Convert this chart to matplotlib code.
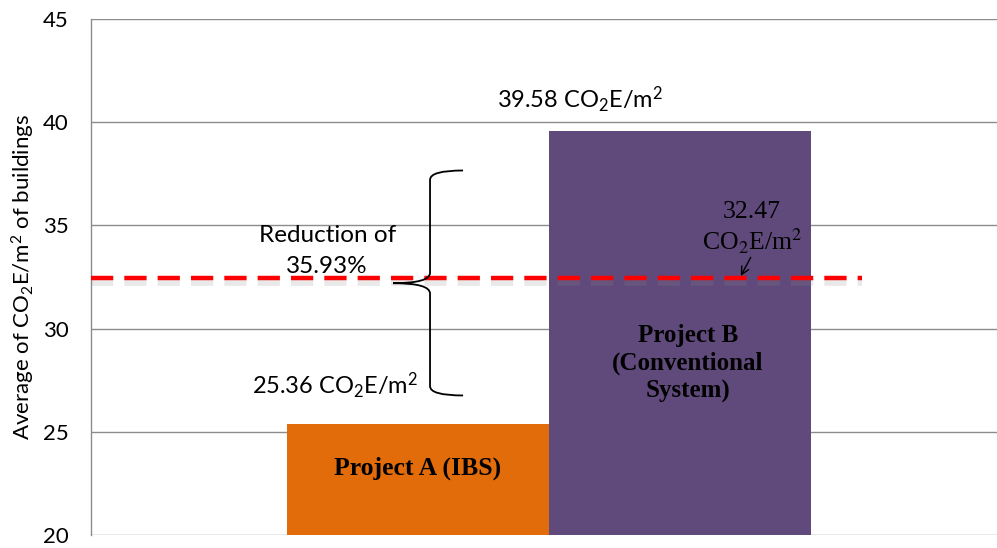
import matplotlib
matplotlib.use("Agg")
import matplotlib.pyplot as plt
from matplotlib.path import Path
from matplotlib.patches import PathPatch
import matplotlib.patheffects as pe

plt.rcParams['font.family'] = ['Lato', 'DejaVu Sans']
plt.rcParams['mathtext.fontset'] = 'custom'
plt.rcParams['mathtext.rm'] = 'Lato'
plt.rcParams['mathtext.it'] = 'Lato:italic'
plt.rcParams['mathtext.bf'] = 'Lato:bold'

# Data
projects = ["Project A (IBS)", "Project B\n(Conventional\nSystem)"]
emissions = [25.36, 39.58]          # CO2E/m2
average = 32.47                      # mean of both projects
reduction_pct = 35.93
bar_colors = ["#E36C0A", "#604A7B"]
y_ticks = [20, 25, 30, 35, 40, 45]

fig = plt.figure(figsize=(9.97, 5.48), dpi=100)
ax = fig.add_axes([91 / 997, 13 / 548, 906 / 997, 516 / 548])

grid_col = "#8C8C8C"
ax.set_ylim(20, 45)
ax.set_xlim(-1.248, 2.21)
ax.set_yticks(y_ticks)
ax.set_yticklabels([str(t) for t in y_ticks], fontsize=16)
ax.set_xticks([])
ax.tick_params(axis='y', length=0, pad=16)
for t in y_ticks:
    ax.axhline(t, color=grid_col, lw=1.0, zorder=0)
for s in ["top", "right", "bottom"]:
    ax.spines[s].set_visible(False)
ax.spines["left"].set_color(grid_col)
ax.spines["left"].set_linewidth(1.0)

ax.set_ylabel("Average of CO$_2$E/m$^2$ of buildings", fontsize=16, labelpad=4)

xpos = [0, 1]
ax.bar(xpos, [v - 20 for v in emissions], bottom=20, width=1.0,
       color=bar_colors, zorder=2)

# Bar names inside the bars
ax.text(xpos[0], 23.23, projects[0], ha="center", va="center",
        fontsize=18.5, fontweight="bold", family="Liberation Serif", zorder=5)
ax.text(xpos[1] + 0.03, 28.3, projects[1], ha="center", va="center",
        fontsize=18, fontweight="bold", family="Liberation Serif",
        linespacing=1.25, zorder=5)

# Average line
ax.plot([-1.248, 1.695], [average, average], color="#FF0000", lw=3.2,
        dashes=(5, 2.5), zorder=4, clip_on=False,
        path_effects=[pe.SimpleLineShadow(offset=(0, -2.5), shadow_color="#888888",
                                          alpha=0.18, linewidth=7),
                      pe.Normal()])

# Value labels
ax.text(0.618, 41.1, f"{emissions[1]:.2f} CO$_2$E/m$^2$", ha="center",
        va="center", fontsize=17, zorder=5)
ax.text(-0.317, 27.2, f"{emissions[0]:.2f} CO$_2$E/m$^2$", ha="center",
        va="center", fontsize=17, zorder=5)
ax.text(-0.347, 33.75, f"Reduction of\n{reduction_pct:.2f}%", ha="center",
        va="center", fontsize=17.5, linespacing=1.6, zorder=5)
ax.text(1.275, 34.86, f"{average:.2f}\nCO$_2$E/m$^2$", ha="center",
        va="center", fontsize=18.5, family="Liberation Serif",
        math_fontfamily="stix", linespacing=1.15, zorder=5)
ax.annotate("", xy=(1.232, average + 0.08), xytext=(1.27, 33.45),
            arrowprops=dict(arrowstyle="->", color="black", lw=1.0,
                            mutation_scale=14, shrinkA=0, shrinkB=0),
            zorder=6)

# Curly brace spanning the reduction
bx, hx, tx = 0.046, 0.172, -0.095
ytop, ymid, ybot = 37.66, 32.2, 26.76
verts = [(hx, ytop), (bx, ytop), (bx, ytop - 0.45),
         (bx, ymid + 0.5),
         (bx, ymid), (tx, ymid),
         (bx, ymid), (bx, ymid - 0.5),
         (bx, ybot + 0.45),
         (bx, ybot), (hx, ybot)]
codes = [Path.MOVETO, Path.CURVE3, Path.CURVE3,
         Path.LINETO,
         Path.CURVE3, Path.CURVE3,
         Path.CURVE3, Path.CURVE3,
         Path.LINETO,
         Path.CURVE3, Path.CURVE3]
ax.add_patch(PathPatch(Path(verts, codes), fill=False, color="black",
                       lw=1.3, zorder=6, clip_on=False))

fig.savefig("out.png", dpi=100)
